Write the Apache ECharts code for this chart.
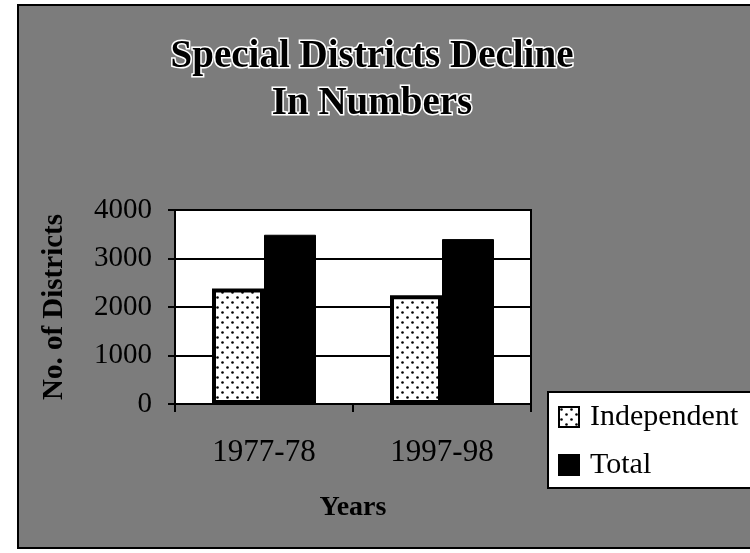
<!DOCTYPE html>
<html>
<head>
<meta charset="utf-8">
<script src="https://cdn.jsdelivr.net/npm/echarts@6/dist/echarts.min.js"></script>
<style>
  html, body { margin: 0; padding: 0; background: #fff; }
  #chart { width: 750px; height: 553px; }
</style>
</head>
<body>
<div id="chart"></div>
<script>
// Number of special districts, by year
const years = ['1977-78', '1997-98'];
const independent = [2380, 2240];
const total = [3490, 3400];
const yTicks = [0, 1000, 2000, 3000, 4000];

const SERIF = '"Liberation Serif", "Times New Roman", serif';

// Small dotted tile used to fill the "Independent" bars
function dotTile() {
  const c = document.createElement('canvas');
  c.width = 10; c.height = 10;
  const g = c.getContext('2d');
  g.fillStyle = '#fff';
  g.fillRect(0, 0, 10, 10);
  g.fillStyle = '#000';
  g.beginPath(); g.arc(2.5, 2.5, 1.3, 0, Math.PI * 2); g.fill();
  g.beginPath(); g.arc(7.5, 7.5, 1.3, 0, Math.PI * 2); g.fill();
  return c;
}

const chart = echarts.init(document.getElementById('chart'), null, { renderer: 'canvas' });

chart.setOption({
  backgroundColor: '#fff',
  animation: false,
  graphic: [{
    type: 'rect',
    z: -10,
    silent: true,
    shape: { x: 18, y: 5, width: 740, height: 543 },
    style: { fill: '#7c7c7c', stroke: '#000', lineWidth: 2 }
  }],
  title: {
    text: 'Special Districts Decline\nIn Numbers',
    left: 367,
    textAlign: 'center',
    top: 28,
    textStyle: {
      fontFamily: SERIF,
      fontWeight: 'bold',
      fontSize: 39,
      lineHeight: 47,
      color: '#000',
      textBorderColor: '#fff',
      textBorderWidth: 3
    }
  },
  legend: {
    orient: 'vertical',
    left: 548,
    top: 392,
    backgroundColor: '#fff',
    borderColor: '#000',
    borderWidth: 2,
    borderRadius: 0,
    padding: [10, 40, 8, 10],
    itemWidth: 20,
    itemHeight: 20,
    itemGap: 18,
    icon: 'rect',
    textStyle: {
      fontFamily: SERIF,
      fontSize: 30,
      color: '#000',
      padding: [0, 0, 0, 6]
    },
    data: ['Independent', 'Total']
  },
  grid: {
    left: 175,
    right: 219,
    top: 210,
    bottom: 149,
    show: true,
    backgroundColor: '#fff',
    borderColor: '#000',
    borderWidth: 2
  },
  xAxis: {
    type: 'category',
    data: years,
    name: 'Years',
    nameLocation: 'middle',
    nameGap: 90,
    nameTextStyle: {
      fontFamily: SERIF,
      fontWeight: 'bold',
      fontSize: 28,
      color: '#000'
    },
    axisLine: { lineStyle: { color: '#000', width: 2 } },
    axisTick: { show: true, length: 8, lineStyle: { color: '#000', width: 2 } },
    axisLabel: {
      fontFamily: SERIF,
      fontSize: 31,
      color: '#000',
      margin: 33
    }
  },
  yAxis: {
    type: 'value',
    min: yTicks[0],
    max: yTicks[yTicks.length - 1],
    interval: 1000,
    name: 'No. of Districts',
    nameLocation: 'middle',
    nameRotate: 90,
    nameGap: 106,
    nameTextStyle: {
      fontFamily: SERIF,
      fontWeight: 'bold',
      fontSize: 29,
      color: '#000'
    },
    axisLine: { show: true, lineStyle: { color: '#000', width: 2 } },
    axisTick: { show: true, length: 7, lineStyle: { color: '#000', width: 2 } },
    axisLabel: {
      fontFamily: SERIF,
      fontSize: 29,
      color: '#000',
      margin: 23,
      formatter: (v) => String(v)
    },
    splitLine: { show: true, lineStyle: { color: '#000', width: 2 } }
  },
  series: [
    {
      name: 'Independent',
      type: 'bar',
      data: independent,
      barWidth: 52,
      barGap: '0%',
      itemStyle: {
        color: { image: dotTile(), repeat: 'repeat' },
        borderColor: '#000',
        borderWidth: 4
      }
    },
    {
      name: 'Total',
      type: 'bar',
      data: total,
      barWidth: 52,
      itemStyle: { color: '#000', borderColor: '#000', borderWidth: 1 }
    }
  ]
});
</script>
</body>
</html>
